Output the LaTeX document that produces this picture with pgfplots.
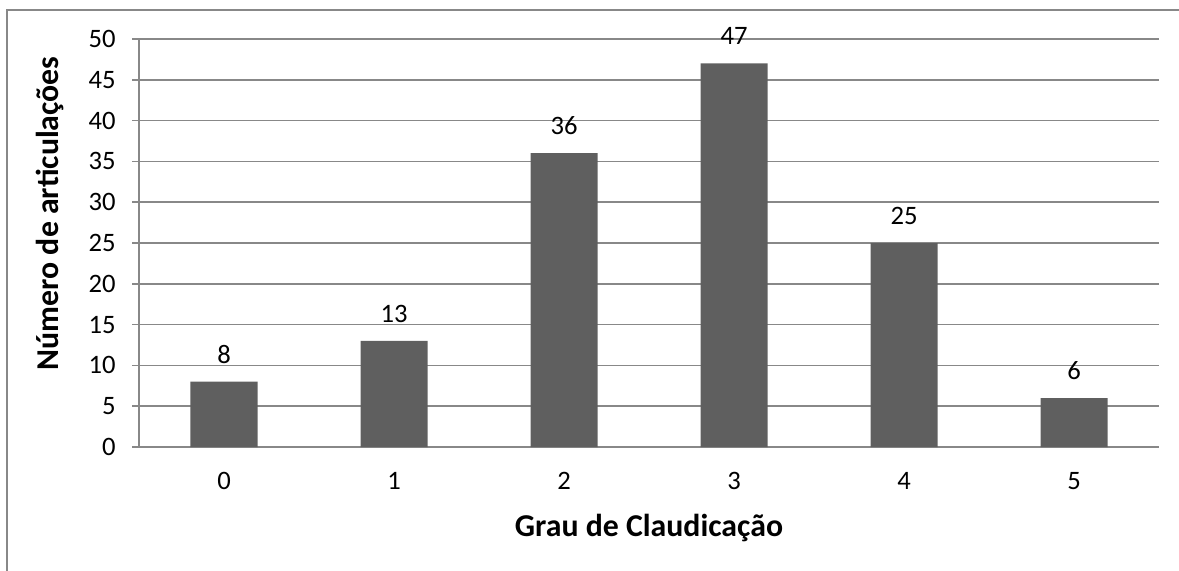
\documentclass[border=0pt]{standalone}
\usepackage{pgfplots}
\pgfplotsset{compat=1.18}
\usepackage{fontspec}
\setmainfont{Carlito}
\definecolor{bargrey}{HTML}{5F5F5F}
\definecolor{linegrey}{HTML}{888888}
\newcommand{\ticksize}{\fontsize{13.3bp}{16bp}\selectfont}
\newcommand{\labsize}{\fontsize{15.9bp}{19bp}\selectfont\bfseries}
\begin{document}
\begin{tikzpicture}
% page box and the chart frame (cut at right and bottom)
\path[use as bounding box] (0,0) rectangle (589.5bp,285.5bp);
\draw[linegrey, line width=1bp] (3.5bp,0) -- (3.5bp,280.5bp) -- (589.5bp,280.5bp);
\begin{axis}[
  at={(69.5bp,62bp)}, anchor=south west,
  scale only axis, width=510bp, height=204bp,
  xmin=-0.5, xmax=5.5, ymin=0, ymax=50,
  ybar, bar width=33.5bp, clip=false,
  xtick={0,...,5}, ytick={0,5,...,50},
  axis x line*=bottom, axis y line*=left,
  axis line style={linegrey, line width=0.75bp},
  ymajorgrids, major grid style={linegrey, line width=0.75bp},
  tick align=outside, major tick length=3.5bp,
  xtick style={draw=none},
  ytick style={linegrey, line width=0.75bp},
  /pgf/number format/assume math mode=true,
  tick label style={font=\ticksize},
  xticklabel style={anchor=base, yshift=-17.5bp},
  yticklabel style={anchor=east, inner sep=0pt, xshift=-8bp},
  nodes near coords,
  every node near coord/.append style={font=\ticksize, anchor=base, yshift=9.3bp, black},
  xlabel={Grau de Claudicação},
  ylabel={Número de articulações},
  xlabel style={font=\labsize, anchor=base, at={(axis description cs:0.5,-0.22)}},
  ylabel style={font=\labsize, anchor=center, at={(axis description cs:-0.0873,0.573)}},
]
\addplot[fill=bargrey, draw=none] coordinates {(0,8) (1,13) (2,36) (3,47) (4,25) (5,6)};
\end{axis}
\end{tikzpicture}
\end{document}
